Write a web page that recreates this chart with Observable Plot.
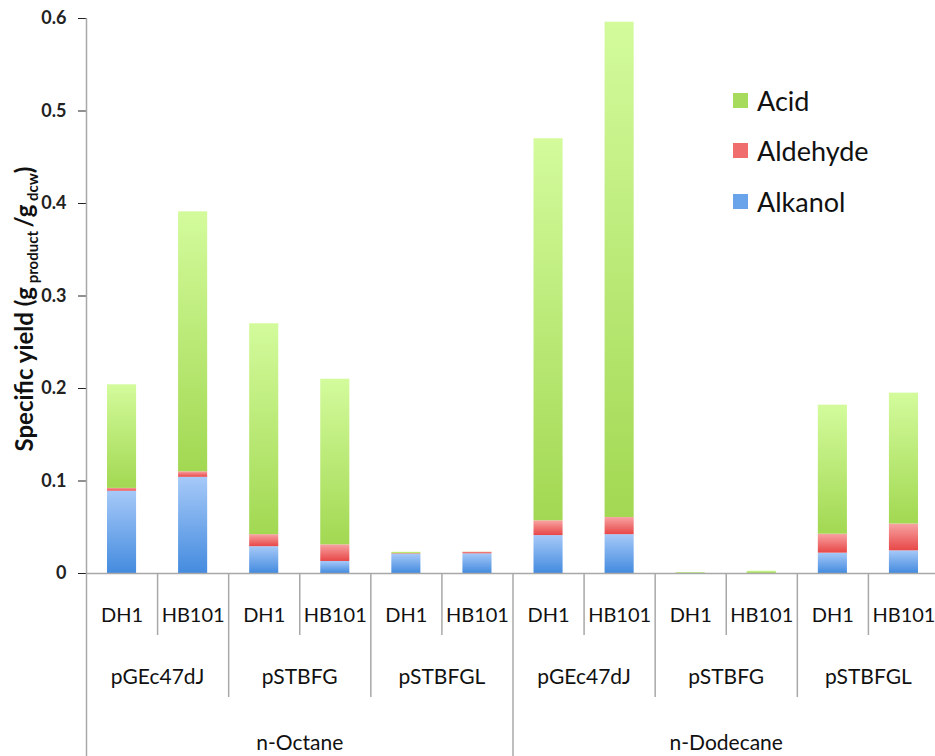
<!DOCTYPE html>
<html>
<head>
<meta charset="utf-8">
<script src="https://cdn.jsdelivr.net/npm/d3@7"></script>
<script src="https://cdn.jsdelivr.net/npm/@observablehq/plot@0.6"></script>
<style>
  body { margin: 0; background: #fff; }
  #wrap { position: relative; width: 935px; height: 756px; font-family: Lato, "Open Sans", sans-serif; }
  #wrap svg g[aria-label^="y-axis"] line { stroke: #9a9a9a; stroke-width: 1.5px; }
  .legend { position: absolute; left: 733px; top: 75px; font-family: Lato, sans-serif; font-size: 27px; color: #111; }
  .legend .row { display: flex; align-items: center; height: 50.5px; }
  .legend .sw { width: 15px; height: 15px; margin-right: 9px; }
</style>
</head>
<body>
<div id="wrap"></div>
<script>
// ---- data ----
const solvents = ["n-Octane", "n-Dodecane"];
const plasmids = ["pGEc47dJ", "pSTBFG", "pSTBFGL"];
const strains = ["DH1", "HB101"];
const types = ["Alkanol", "Aldehyde", "Acid"];           // stacking order bottom → top
const legendOrder = ["Acid", "Aldehyde", "Alkanol"];
const yTicks = [0, 0.1, 0.2, 0.3, 0.4, 0.5, 0.6];

// values per category, in order solvent → plasmid → strain
const alkanol  = [0.089, 0.104, 0.029, 0.013, 0.021, 0.0213, 0.041, 0.042, 0.000, 0.000, 0.022, 0.0245];
const aldehyde = [0.003, 0.006, 0.013, 0.018, 0.0005, 0.0017, 0.016, 0.0185, 0.000, 0.000, 0.0205, 0.029];
const acid     = [0.112, 0.281, 0.228, 0.179, 0.0015, 0.0002, 0.413, 0.5355, 0.001, 0.0025, 0.1395, 0.1415];

const colors = {Acid: "#a6db5c", Aldehyde: "#ef6d6d", Alkanol: "#69a3ea"};
const gradients = {
  Acid: ["#d3fb9c", "#a2d852"],
  Aldehyde: ["#f8a3a3", "#e84747"],
  Alkanol: ["#a6c9f8", "#448bdf"]
};

// ---- build tables ----
const categories = [];
solvents.forEach((s, si) => plasmids.forEach((p, pi) => strains.forEach((st, ti) => {
  categories.push({i: categories.length, solvent: s, plasmid: p, strain: st, si, pi, ti});
})));
const seriesValues = {Alkanol: alkanol, Aldehyde: aldehyde, Acid: acid};
const rows = [];
categories.forEach(c => {
  let base = 0;
  types.forEach(t => {
    const v = seriesValues[t][c.i];
    rows.push({i: c.i, type: t, y1: base, y2: base + v});
    base += v;
  });
});
const plasmidGroups = d3.groups(categories, c => c.solvent + "|" + c.plasmid)
  .map(([k, g]) => ({label: g[0].plasmid, x: d3.mean(g, c => c.i + 0.5)}));
const solventGroups = d3.groups(categories, c => c.solvent)
  .map(([k, g]) => ({label: k, x: d3.mean(g, c => c.i + 0.5)}));
const strainSeps = categories.filter(c => c.ti > 0).map(c => c.i);
const plasmidSeps = categories.filter(c => c.ti === 0 && c.pi > 0).map(c => c.i);
const solventSeps = categories.filter(c => c.ti === 0 && c.pi === 0).map(c => c.i).concat([categories.length]);

const gradId = t => "grad-" + t;
const sepColor = "#a8a8a8";

const chart = Plot.plot({
  width: 935,
  height: 756,
  marginTop: 18,
  marginBottom: 183,
  marginLeft: 86,
  marginRight: -4,
  style: {fontFamily: "Lato, sans-serif", fontSize: "18px", fontWeight: "bold", color: "#222", background: "white", overflow: "visible"},
  x: {domain: [0, categories.length], axis: null},
  y: {domain: [0, 0.6], ticks: yTicks, tickFormat: d => String(d), tickSize: 8, tickPadding: 12, label: null},
  color: {domain: types, range: types.map(t => `url(#${gradId(t)})`)},
  marks: [
    Plot.rect(rows, {x1: "i", x2: d => d.i + 1, y1: "y1", y2: "y2", fill: "type", insetLeft: 21, insetRight: 21}),
    Plot.ruleY([0], {stroke: sepColor, strokeWidth: 1.5}),
    Plot.ruleX([0], {stroke: sepColor, strokeWidth: 1.5}),
    Plot.ruleX(strainSeps, {x: d => d, y1: 0, y2: 0, insetBottom: -62, stroke: sepColor, strokeWidth: 1.5}),
    Plot.ruleX(plasmidSeps, {x: d => d, y1: 0, y2: 0, insetBottom: -124, stroke: sepColor, strokeWidth: 1.5}),
    Plot.ruleX(solventSeps, {x: d => d, y1: 0, y2: 0, insetBottom: -190, stroke: sepColor, strokeWidth: 1.5}),
    Plot.text(categories, {x: d => d.i + 0.5, frameAnchor: "bottom", dy: 48, text: "strain", fontSize: 20, fontWeight: "normal", fill: "#111"}),
    Plot.text(plasmidGroups, {x: "x", frameAnchor: "bottom", dy: 110, text: "label", fontSize: 21, fontWeight: "normal", fill: "#111"}),
    Plot.text(solventGroups, {x: "x", frameAnchor: "bottom", dy: 176, text: "label", fontSize: 21, fontWeight: "normal", fill: "#111"})
  ]
});

// gradient fills
const defs = d3.select(chart).insert("defs", ":first-child");
types.forEach(t => {
  const g = defs.append("linearGradient").attr("id", gradId(t)).attr("x1", 0).attr("y1", 0).attr("x2", 0).attr("y2", 1);
  g.append("stop").attr("offset", "0%").attr("stop-color", gradients[t][0]);
  g.append("stop").attr("offset", "100%").attr("stop-color", gradients[t][1]);
});

// y-axis title with subscripts
const yl = d3.select(chart).append("text")
  .attr("transform", "translate(33,309) rotate(-90)")
  .attr("text-anchor", "middle")
  .attr("font-family", "Lato, sans-serif")
  .attr("font-weight", "bold")
  .attr("font-size", 24)
  .attr("fill", "#111");
yl.append("tspan").text("Specific yield (g");
yl.append("tspan").attr("font-size", 15).attr("dy", 5).text(" product ");
yl.append("tspan").attr("dy", -5).text("/g");
yl.append("tspan").attr("font-size", 15).attr("dy", 5).text(" dcw");
yl.append("tspan").attr("dy", -5).text(")");

const wrap = document.getElementById("wrap");
wrap.appendChild(chart);

// legend
const legend = document.createElement("div");
legend.className = "legend";
legendOrder.forEach(t => {
  const row = document.createElement("div");
  row.className = "row";
  row.innerHTML = `<span class="sw" style="background:${colors[t]}"></span><span>${t}</span>`;
  legend.appendChild(row);
});
wrap.appendChild(legend);
</script>
</body>
</html>
